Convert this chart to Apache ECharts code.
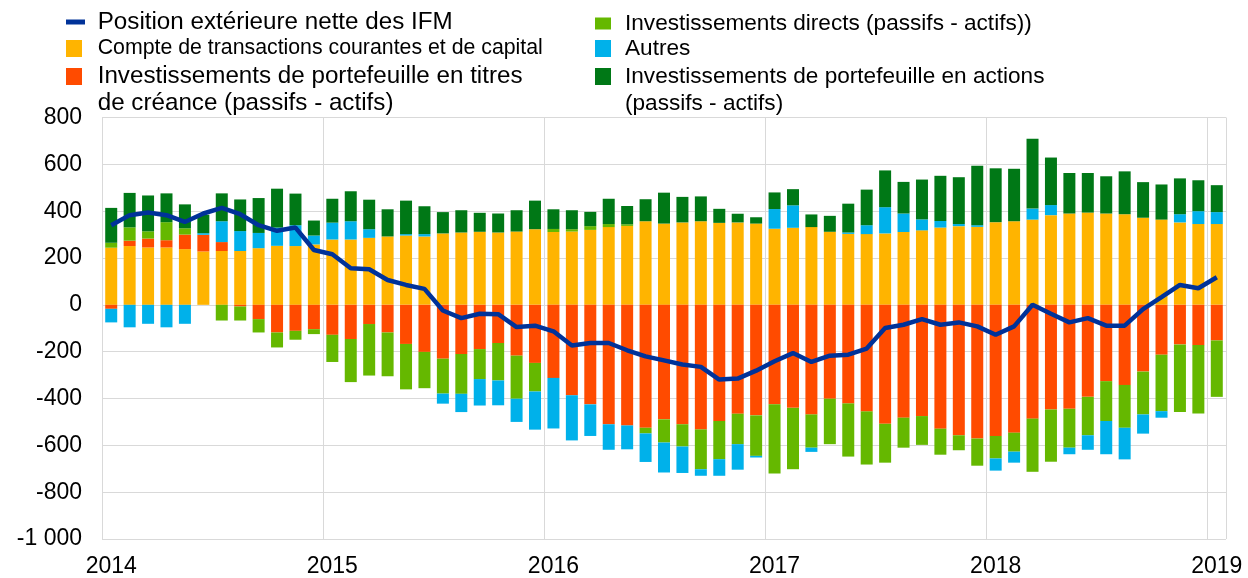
<!DOCTYPE html>
<html>
<head>
<meta charset="utf-8">
<script src="https://cdn.jsdelivr.net/npm/echarts@6/dist/echarts.min.js"></script>
<style>
html,body{margin:0;padding:0;background:#fff;}
#chart{width:1248px;height:578px;}
</style>
</head>
<body>
<div id="chart"></div>
<script>
// Monthly categories Jan 2014 .. Jan 2019
const months = [];
for (let y = 2014; y <= 2019; y++) {
  for (let m = 1; m <= 12; m++) {
    if (y === 2019 && m > 1) break;
    months.push(y + '-' + (m < 10 ? '0' + m : m));
  }
}

const currentCapital = [244,251,245,245,238,228,230,230,242,252,
  251,258,279,279,286,292,296,292,305,309,312,309,313,323,
  311,313,320,332,337,357,347,352,357,350,352,347,
  325,329,332,312,303,302,305,311,318,330,336,333,
  353,357,364,383,390,394,390,387,372,364,352,345,
  345];
const portfolioDebt = [-17,23,38,31,62,71,38,-7,-61,-118,
  -111,-104,-128,-146,-82,-118,-167,-201,-230,-210,-189,-163,-217,-248,
  -312,-386,-425,-510,-515,-525,-489,-510,-532,-496,-465,-472,
  -425,-440,-468,-401,-421,-455,-508,-482,-475,-529,-557,-571,
  -560,-546,-486,-447,-444,-393,-326,-342,-285,-213,-169,-172,
  -152];
const directInvest = [21,57,31,77,27,0,-67,-60,-57,-64,
  -38,-21,-116,-184,-220,-187,-194,-155,-149,-170,-128,-160,-184,-122,
  13,10,16,13,7,-24,-99,-95,-170,-163,-130,-173,
  -295,-262,-142,-194,-227,-227,-166,-128,-123,-111,-64,-116,
  -96,-81,-227,-223,-166,-164,-170,-183,-183,-241,-289,-292,
  -241];
const others = [-58,-96,-81,-96,-81,7,89,85,65,78,
  89,38,72,78,37,0,6,10,-43,-78,-113,-106,-99,-163,
  -216,-193,-135,-109,-102,-122,-128,-113,-28,-71,-109,-7,
  84,96,-18,0,6,38,112,79,47,28,9,7,
  -52,-47,47,43,-28,-62,-142,-135,-82,-28,35,55,
  51];
const portfolioEquity = [149,147,153,123,102,79,119,135,149,166,
  135,64,102,128,126,116,143,119,91,95,81,81,91,122,
  84,81,61,108,78,94,132,109,106,60,37,27,
  71,69,54,68,123,152,157,135,170,193,200,254,
  230,224,298,203,173,169,159,183,152,150,153,132,
  115];
const netPosition = [340,383,394,383,354,390,414,387,340,316,
  330,234,216,156,152,106,85,68,-24,-57,-38,-40,-95,-89,
  -113,-174,-163,-163,-194,-220,-237,-255,-265,-319,-315,-281,
  -241,-206,-244,-217,-213,-187,-99,-85,-61,-85,-75,-92,
  -128,-92,0,-38,-75,-57,-89,-89,-18,33,85,71,
  118];

const names = {
  net: 'Position extérieure nette des IFM',
  ca: 'Compte de transactions courantes et de capital',
  debt: 'Investissements de portefeuille en titres\nde créance (passifs - actifs)',
  fdi: 'Investissements directs (passifs - actifs))',
  oth: 'Autres',
  eq: 'Investissements de portefeuille en actions\n(passifs - actifs)'
};
const colors = {
  net: '#003299', ca: '#FFB400', debt: '#FF4B00',
  fdi: '#65B800', oth: '#00B1EA', eq: '#007816'
};

const FONT = '"Liberation Sans", Arial, sans-serif';

// two-line labels get an empty leading line so that their first line sits beside the icon
function legendItem(name, left, top, iw, ih, fontSize, padLeft) {
  return {
    data: [{ name: name, icon: 'rect' }],
    left: left, top: top, orient: 'vertical', padding: 0,
    itemWidth: iw, itemHeight: ih, selectedMode: false,
    formatter: function (n) { return n.indexOf('\n') >= 0 ? '\n' + n : n; },
    textStyle: {
      fontFamily: FONT, fontSize: fontSize, color: '#000', lineHeight: 27,
      padding: [0, 0, 0, padLeft]
    }
  };
}

const chart = echarts.init(document.getElementById('chart'), null, { renderer: 'canvas' });

function barSeries(key, data) {
  return {
    name: names[key], type: 'bar', stack: 'total', data: data,
    barWidth: 12,
    itemStyle: { color: colors[key] },
    emphasis: { disabled: true }
  };
}

chart.setOption({
  animation: false,
  backgroundColor: '#fff',
  grid: { left: 102, right: 22, top: 117.5, bottom: 38.5, containLabel: false },
  legend: [
    legendItem(names.net, 66, 8.5, 19, 5, 24.2, 7.7),
    legendItem(names.ca, 66, 35, 16, 17, 21.3, 10.7),
    legendItem(names.debt, 66, 36, 16, 17, 24.2, 10.7),
    legendItem(names.fdi, 595, 10, 16, 12, 22.6, 9),
    legendItem(names.oth, 595, 35, 16, 17, 22.6, 9),
    legendItem(names.eq, 595, 36, 16, 17, 22.6, 9)
  ],
  xAxis: {
    type: 'category', data: months, boundaryGap: true,
    axisLine: { show: false }, axisTick: { show: false },
    axisLabel: {
      interval: 11, fontFamily: FONT, fontSize: 23, color: '#000', margin: 16,
      formatter: function (v) { return v.slice(0, 4); }
    },
    splitLine: { show: true, interval: 11, lineStyle: { color: '#d9d9d9', width: 1 } }
  },
  yAxis: {
    type: 'value', min: -1000, max: 800, interval: 200,
    axisLine: { show: false }, axisTick: { show: false },
    splitLine: { show: true, lineStyle: { color: '#d9d9d9', width: 1 } },
    axisLabel: {
      fontFamily: FONT, fontSize: 23, color: '#000', margin: 20,
      formatter: function (v) {
        const s = Math.abs(v).toString().replace(/\B(?=(\d{3})+(?!\d))/g, ' ');
        return (v < 0 ? '-' : '') + s;
      }
    }
  },
  series: [
    barSeries('ca', currentCapital),
    barSeries('debt', portfolioDebt),
    barSeries('fdi', directInvest),
    barSeries('oth', others),
    barSeries('eq', portfolioEquity),
    {
      name: names.net, type: 'line', data: netPosition,
      symbol: 'none', z: 10,
      lineStyle: { color: colors.net, width: 4.5 },
      itemStyle: { color: colors.net },
      emphasis: { disabled: true }
    }
  ]
});
</script>
</body>
</html>
